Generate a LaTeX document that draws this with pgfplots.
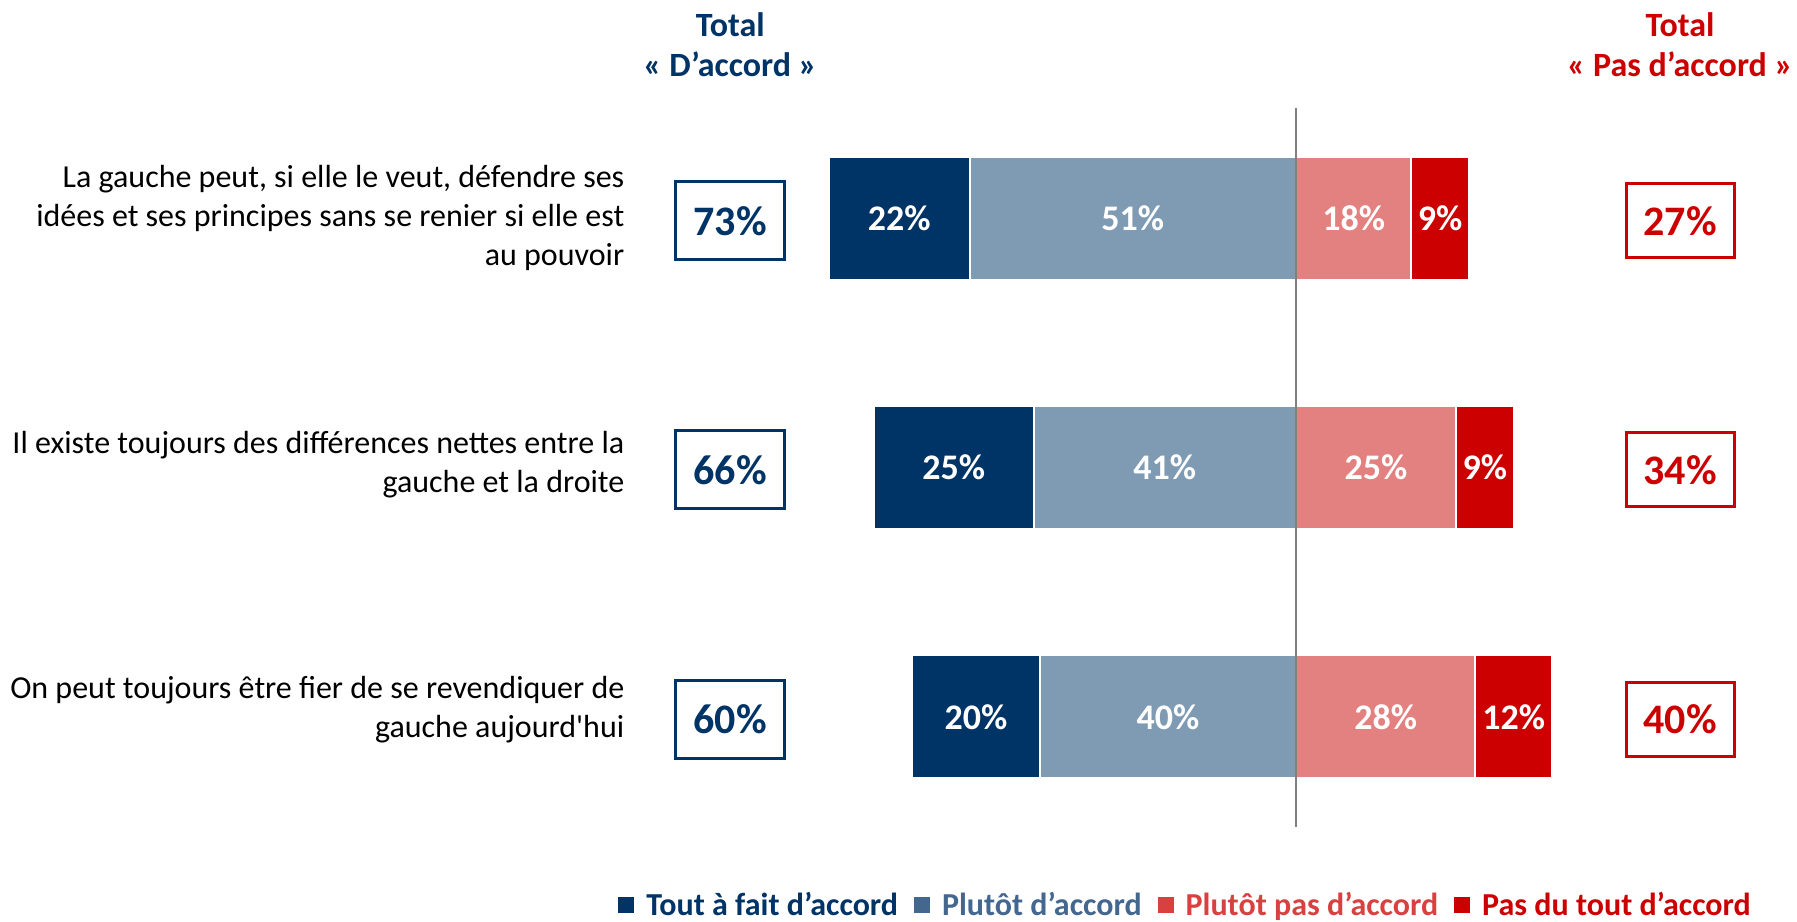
\documentclass[border=0pt]{standalone}
\usepackage{fontspec}
\setmainfont{Carlito}
\usepackage{pgfplots}
\pgfplotsset{compat=1.18}
\definecolor{navy}{RGB}{0,51,102}
\definecolor{steel}{RGB}{127,155,180}
\definecolor{pinkr}{RGB}{227,128,128}
\definecolor{redd}{RGB}{204,0,0}
\definecolor{steelleg}{RGB}{68,103,143}
\definecolor{pinkleg}{RGB}{217,65,65}
\definecolor{gline}{RGB}{128,128,128}
\pgfplotsset{
  base/.style={scale only axis, width=898.5pt, height=460.5pt,
    xmin=-202.5, xmax=78.28, ymin=-0.8755, ymax=2.8194, y dir=reverse,
    hide axis, clip=false},
  bars/.style={base, xbar stacked, bar width=61.3pt},
}
\newcommand{\catfont}{\fontsize{16}{19.5}\selectfont}
\newcommand{\barfont}{\bfseries\fontsize{18}{20}\selectfont}
\newcommand{\boxfont}{\bfseries\fontsize{21}{24}\selectfont}
\newcommand{\headfont}{\bfseries\fontsize{17}{20}\selectfont}
\begin{document}
\begin{tikzpicture}
% left bars
\begin{axis}[bars]
\addplot[fill=steel, draw=white, line width=1pt] coordinates {(-51,0) (-41,1) (-40,2)};
\addplot[fill=navy, draw=white, line width=1pt] coordinates {(-22,0) (-25,1) (-20,2)};
\end{axis}
% right bars
\begin{axis}[bars]
\addplot[fill=pinkr, draw=white, line width=1pt] coordinates {(18,0) (25,1) (28,2)};
\addplot[fill=redd, draw=white, line width=1pt] coordinates {(9,0) (9,1) (12,2)};
\end{axis}
% texts, line, legend
\begin{axis}[base,
  legend style={draw=none, fill=none, legend columns=4,
    at={(axis cs:-17.1,2.755)}, anchor=center,
    font=\bfseries\fontsize{16}{18}\selectfont,
    /tikz/every even column/.append style={column sep=6pt}},
  legend cell align=left]
\addlegendimage{legend image code/.code={\fill[navy, draw=none] (0pt,-4pt) rectangle (8pt,4pt); \path[draw=none, fill=none] (0pt,0pt) -- (12pt,0pt);}}
\addlegendentry{\textcolor{navy}{Tout à fait d’accord}}
\addlegendimage{legend image code/.code={\fill[steelleg, draw=none] (0pt,-4pt) rectangle (8pt,4pt); \path[draw=none, fill=none] (0pt,0pt) -- (12pt,0pt);}}
\addlegendentry{\textcolor{steelleg}{Plutôt d’accord}}
\addlegendimage{legend image code/.code={\fill[pinkleg, draw=none] (0pt,-4pt) rectangle (8pt,4pt); \path[draw=none, fill=none] (0pt,0pt) -- (12pt,0pt);}}
\addlegendentry{\textcolor{pinkleg}{Plutôt pas d’accord}}
\addlegendimage{legend image code/.code={\fill[redd, draw=none] (0pt,-4pt) rectangle (8pt,4pt); \path[draw=none, fill=none] (0pt,0pt) -- (12pt,0pt);}}
\addlegendentry{\textcolor{redd}{Pas du tout d’accord}}
\addplot[gline, line width=1pt, forget plot] coordinates {(0,-0.443) (0,2.444)};
% segment labels
\foreach \x/\y/\t in {-62/0/22, -25.5/0/51, 9/0/18, 22.5/0/9,
                      -53.5/1/25, -20.5/1/41, 12.5/1/25, 29.5/1/9,
                      -50/2/20, -20/2/40, 14/2/28, 34/2/12}{
  \edef\tmp{\noexpand\node[text=white, font=\noexpand\barfont] at (axis cs:\x,\y) {\t\noexpand\%};}
  \tmp
}
% category labels
\node[anchor=east, align=right, inner sep=0pt, font=\catfont] at (axis cs:-104.9,0) {La gauche peut, si elle le veut, défendre ses\\idées et ses principes sans se renier si elle est\\au pouvoir};
\node[anchor=east, align=right, inner sep=0pt, font=\catfont] at (axis cs:-104.9,0.99) {Il existe toujours des différences nettes entre la\\gauche et la droite};
\node[anchor=east, align=right, inner sep=0pt, font=\catfont] at (axis cs:-104.9,1.97) {On peut toujours être fier de se revendiquer de\\gauche aujourd\textquotesingle hui};
% headers
\node[align=center, text=navy, font=\headfont] at (axis cs:-88.4,-0.695) {Total\\« D’accord »};
\node[align=center, text=redd, font=\headfont] at (axis cs:60,-0.695) {Total\\« Pas d’accord »};
% total boxes
\foreach \y/\a/\b in {0/73/27, 1/66/34, 2/60/40}{
  \edef\tmp{\noexpand\node[draw=navy, line width=1.5pt, minimum width=54.5pt, minimum height=39pt, text=navy, font=\noexpand\boxfont] at (axis cs:-88.4,\y+0.01) {\a\noexpand\%};
  \noexpand\node[draw=redd, line width=1.5pt, minimum width=54pt, minimum height=37pt, text=redd, font=\noexpand\boxfont] at (axis cs:60,\y+0.01) {\b\noexpand\%};}
  \tmp
}
\end{axis}
\pgfresetboundingbox
\path[use as bounding box] (current axis.south west) rectangle (current axis.north east);
\end{tikzpicture}
\end{document}
